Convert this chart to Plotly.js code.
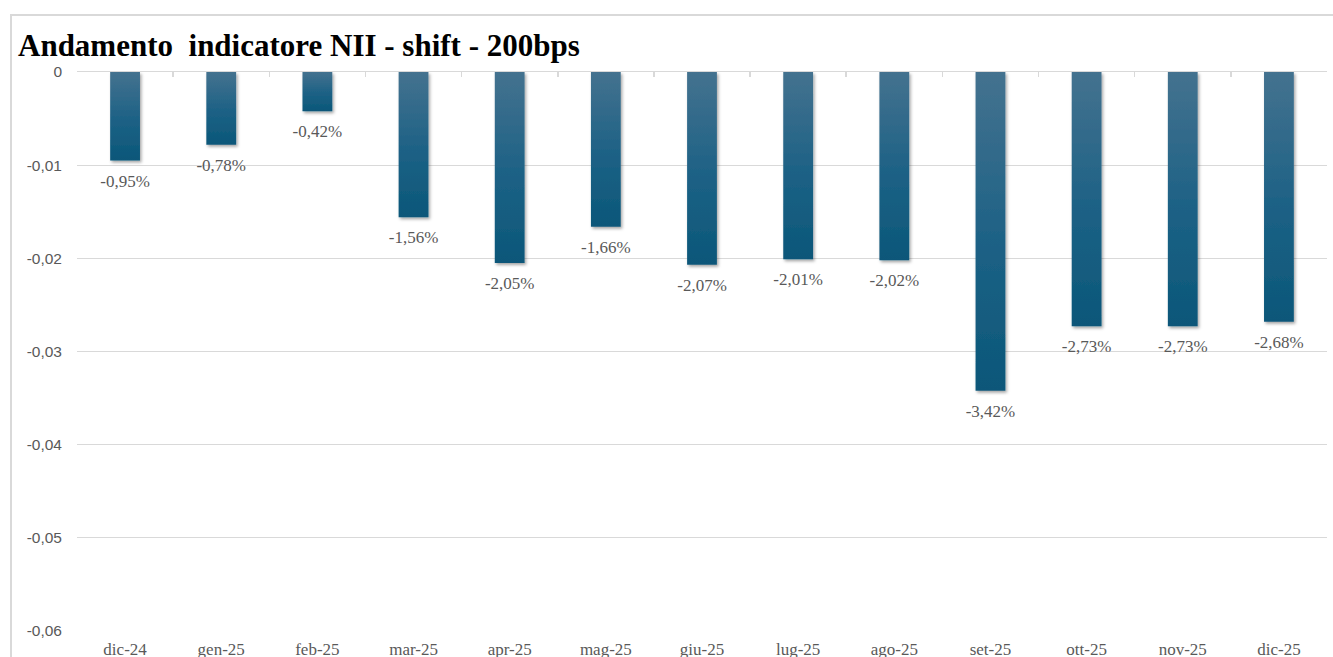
<!DOCTYPE html>
<html>
<head>
<meta charset="utf-8">
<script src="https://cdn.plot.ly/plotly-3.0.1.min.js"></script>
<style>
  html, body { margin: 0; padding: 0; background: #ffffff; overflow: hidden; }
  #wrap { position: relative; width: 1333px; height: 657px; overflow: hidden; }
  #chart { position: absolute; left: 0; top: 0; width: 1333px; height: 657px; }
  #frame { position: absolute; left: 10px; top: 14px; width: 1400px; height: 700px;
           border: 2px solid #d9d9d9; box-sizing: border-box; pointer-events: none; }
</style>
</head>
<body>
<div id="wrap">
  <div id="chart"></div>
  <div id="frame"></div>
</div>
<script>
// ---- data ----
const months = ["dic-24", "gen-25", "feb-25", "mar-25", "apr-25", "mag-25", "giu-25",
                "lug-25", "ago-25", "set-25", "ott-25", "nov-25", "dic-25"];
const niiShift = [-0.0095, -0.0078, -0.0042, -0.0156, -0.0205, -0.0166, -0.0207,
                  -0.0201, -0.0202, -0.0342, -0.0273, -0.0273, -0.0268];
const yTickVals = [0, -0.01, -0.02, -0.03, -0.04, -0.05, -0.06];
const yTickText = ["0", "-0,01", "-0,02", "-0,03", "-0,04", "-0,05", "-0,06"];
const chartTitle = "Andamento  indicatore NII - shift - 200bps";

const labels = niiShift.map(v => (v * 100).toFixed(2).replace(".", ",") + "%");
const idx = months.map((m, i) => i);

const bars = {
  type: "bar",
  x: months,
  y: niiShift,
  xaxis: "x",
  yaxis: "y",
  marker: { color: "#245f80", line: { width: 0 } },
  text: labels,
  texttemplate: "%{text}",
  textposition: "outside",
  constraintext: "none",
  cliponaxis: false,
  textfont: { family: "Liberation Serif, Times New Roman, serif", size: 17, color: "#595959" },
  hoverinfo: "skip",
  showlegend: false
};

const layout = {
  width: 1333,
  height: 657,
  margin: { l: 77, r: 6, t: 72, b: 26, pad: 0 },
  paper_bgcolor: "rgba(0,0,0,0)",
  plot_bgcolor: "rgba(0,0,0,0)",
  bargap: 0.69,
  showlegend: false,
  title: {
    text: chartTitle,
    xref: "container", yref: "container",
    x: 18 / 1333, xanchor: "left",
    y: 1 - 45 / 657, yanchor: "middle",
    font: { family: "Liberation Serif, Times New Roman, serif", size: 31, color: "#000000", weight: "bold" }
  },
  xaxis: {
    type: "category",
    categoryorder: "array",
    categoryarray: months,
    side: "top",
    anchor: "y",
    showline: true,
    linecolor: "#d9d9d9",
    linewidth: 1.5,
    ticks: "inside",
    ticklen: 5,
    tickwidth: 1.5,
    tickcolor: "#d9d9d9",
    tickson: "boundaries",
    showticklabels: false,
    showgrid: false,
    zeroline: false,
    fixedrange: true
  },
  xaxis2: {
    overlaying: "x",
    anchor: "y",
    side: "bottom",
    type: "linear",
    range: [-0.5, months.length - 0.5],
    tickmode: "array",
    tickvals: idx,
    ticktext: months,
    ticks: "",
    ticklabelstandoff: 6,
    showline: false,
    showgrid: false,
    zeroline: false,
    tickfont: { family: "Liberation Serif, Times New Roman, serif", size: 17, color: "#595959" },
    fixedrange: true
  },
  yaxis: {
    range: [-0.06, 0],
    tickmode: "array",
    tickvals: yTickVals,
    ticktext: yTickText,
    showgrid: true,
    gridcolor: "#d9d9d9",
    gridwidth: 1.2,
    zeroline: false,
    showline: false,
    ticks: "",
    ticklabelstandoff: 14,
    tickfont: { family: "Liberation Sans, Arial, sans-serif", size: 15.5, color: "#595959" },
    fixedrange: true
  }
};

// dummy trace so xaxis2 is drawn (no visible marks)
const axisHolder = {
  type: "scatter",
  x: idx,
  y: idx.map(() => null),
  xaxis: "x2",
  yaxis: "y",
  mode: "markers",
  hoverinfo: "skip",
  showlegend: false
};

Plotly.newPlot("chart", [bars, axisHolder], layout, { staticPlot: true, displayModeBar: false })
  .then(gd => {
    const svg = gd.querySelector("svg.main-svg");
    const ns = "http://www.w3.org/2000/svg";
    let defs = svg.querySelector("defs");
    if (!defs) { defs = document.createElementNS(ns, "defs"); svg.insertBefore(defs, svg.firstChild); }
    const grad = document.createElementNS(ns, "linearGradient");
    grad.setAttribute("id", "barGrad");
    grad.setAttribute("x1", "0"); grad.setAttribute("y1", "0");
    grad.setAttribute("x2", "0"); grad.setAttribute("y2", "1");
    [["0", "#44728f"], ["0.55", "#1c6185"], ["1", "#0b5779"]].forEach(([o, c]) => {
      const s = document.createElementNS(ns, "stop");
      s.setAttribute("offset", o); s.setAttribute("stop-color", c);
      grad.appendChild(s);
    });
    defs.appendChild(grad);
    const filt = document.createElementNS(ns, "filter");
    filt.setAttribute("id", "barShadow");
    filt.setAttribute("x", "-30%"); filt.setAttribute("y", "-10%");
    filt.setAttribute("width", "160%"); filt.setAttribute("height", "130%");
    const ds = document.createElementNS(ns, "feDropShadow");
    ds.setAttribute("dx", "1.5"); ds.setAttribute("dy", "2");
    ds.setAttribute("stdDeviation", "1.8");
    ds.setAttribute("flood-color", "#000000"); ds.setAttribute("flood-opacity", "0.35");
    filt.appendChild(ds);
    defs.appendChild(filt);
    gd.querySelectorAll(".barlayer .point path").forEach(p => {
      p.style.fill = "url(#barGrad)";
      p.style.filter = "url(#barShadow)";
    });
    // push value labels a little further below the bar ends, as in the reference
    gd.querySelectorAll(".barlayer .point text.bartext").forEach(t => {
      const tr = t.getAttribute("transform") || "";
      t.setAttribute("transform", "translate(0,8) " + tr);
    });
  });
</script>
</body>
</html>
